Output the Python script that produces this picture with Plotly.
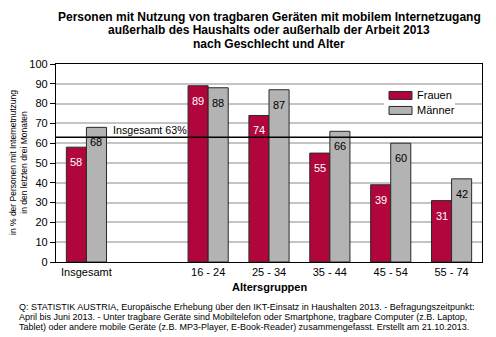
import plotly.graph_objects as go

# ---- data ----
categories = ["Insgesamt", "16 - 24", "25 - 34", "35 - 44", "45 - 54", "55 - 74"]
cat_pos = [0, 2, 3, 4, 5, 6]          # slot index (one empty slot after "Insgesamt")
series_names = ["Frauen", "Männer"]
frauen = [58, 89, 74, 55, 39, 31]
maenner = [68, 88, 87, 66, 60, 42]
total_value = 63
total_label = "Insgesamt 63%"
y_ticks = [0, 10, 20, 30, 40, 50, 60, 70, 80, 90, 100]

title_lines = ["Personen mit Nutzung von tragbaren Geräten mit mobilem Internetzugang",
               "außerhalb des Haushalts oder außerhalb der Arbeit 2013",
               "nach Geschlecht und Alter"]
y_title = "in % der Personen mit Internetnutzung<br>in den letzten drei Monaten"
x_title = "Altersgruppen"
footnote_lines = [
    "Q: STATISTIK AUSTRIA, Europäische Erhebung über den IKT-Einsatz in Haushalten 2013. - Befragungszeitpunkt:",
    "April bis Juni 2013. - Unter tragbare Geräte sind Mobiltelefon oder Smartphone, tragbare Computer (z.B. Laptop,",
    "Tablet) oder andere mobile Geräte (z.B. MP3-Player, E-Book-Reader) zusammengefasst. Erstellt am 21.10.2013.",
]

# ---- style ----
FONT = "Liberation Sans, Arial, Helvetica, sans-serif"
RED = "#B0063C"
GRAY = "#B3B3B3"
OUTLINE = "#2a2a2a"
BAR_W = 0.33

W, H = 496, 337
ML, MR, MT, MB = 56, 14, 63.5, 75.3
PW, PH = W - ML - MR, H - MT - MB


def px_to_paper_x(px):
    return (px - ML) / PW


def px_to_paper_y(py):
    return (H - MB - py) / PH


fig = go.Figure()
specs = [(series_names[0], frauen, RED, -BAR_W, "white"),
         (series_names[1], maenner, GRAY, 0.0, "black")]
annotations = []
for name, vals, col, off, tcol in specs:
    fig.add_trace(go.Bar(
        name=name, x=cat_pos, y=vals, width=BAR_W, offset=off,
        marker=dict(color=col, line=dict(color=OUTLINE, width=1)),
        showlegend=False,
    ))
    for xp, v in zip(cat_pos, vals):
        annotations.append(dict(
            x=xp + off + BAR_W / 2, y=v, xref="x", yref="y", text=str(v),
            showarrow=False, yanchor="middle", xanchor="center", yshift=-15,
            font=dict(family=FONT, size=11, color=tcol),
        ))

# reference line "Insgesamt 63%"
shapes = [dict(type="line", xref="paper", yref="y", x0=0, x1=1,
               y0=total_value, y1=total_value, layer="above",
               line=dict(color="black", width=1.3))]
annotations.append(dict(x=0.4, y=total_value, xref="x", yref="y",
                        text=total_label, showarrow=False, xanchor="left",
                        yanchor="bottom", yshift=-1,
                        font=dict(family=FONT, size=10.7, color="black")))

# custom legend (white box, wide swatches)
shapes.append(dict(type="rect", xref="paper", yref="paper",
                   x0=px_to_paper_x(384), x1=px_to_paper_x(455),
                   y0=px_to_paper_y(118), y1=px_to_paper_y(86),
                   fillcolor="white", line=dict(width=0), layer="above"))
for i, (name, col) in enumerate(zip(series_names, [RED, GRAY])):
    top = 91 + i * 15
    shapes.append(dict(type="rect", xref="paper", yref="paper",
                       x0=px_to_paper_x(389), x1=px_to_paper_x(412),
                       y0=px_to_paper_y(top + 8), y1=px_to_paper_y(top),
                       fillcolor=col, line=dict(color=OUTLINE, width=1),
                       layer="above"))
    annotations.append(dict(x=px_to_paper_x(415), y=px_to_paper_y(top + 4),
                            xref="paper", yref="paper", text=name,
                            showarrow=False, xanchor="left", yanchor="middle",
                            font=dict(family=FONT, size=11, color="black")))

# title (three lines, tight spacing)
for i, line in enumerate(title_lines):
    annotations.append(dict(x=0.5, y=px_to_paper_y(16 + i * 13.5), xref="paper",
                            yref="paper", text="<b>" + line + "</b>",
                            showarrow=False, xanchor="center", yanchor="middle",
                            font=dict(family=FONT, size=12, color="black")))

# axis titles & footnote
annotations.append(dict(x=px_to_paper_x(18), y=0.5, xref="paper", yref="paper",
                        text=y_title, textangle=-90, showarrow=False,
                        xanchor="center", yanchor="middle", align="center",
                        font=dict(family=FONT, size=8.5, color="black")))
annotations.append(dict(x=0.5, y=px_to_paper_y(287), xref="paper", yref="paper",
                        text="<b>" + x_title + "</b>", showarrow=False,
                        xanchor="center", yanchor="middle",
                        font=dict(family=FONT, size=11, color="black")))
for i, line in enumerate(footnote_lines):
    annotations.append(dict(x=px_to_paper_x(17), y=px_to_paper_y(307 + i * 10),
                            xref="paper", yref="paper", text=line,
                            showarrow=False, xanchor="left", yanchor="middle",
                            align="left",
                            font=dict(family=FONT, size=9, color="black")))

fig.update_layout(
    width=W, height=H,
    margin=dict(l=ML, r=MR, t=MT, b=MB, autoexpand=False),
    paper_bgcolor="white", plot_bgcolor="white",
    font=dict(family=FONT, size=11, color="black"),
    barmode="overlay",
    xaxis=dict(range=[-0.5, 6.5], tickvals=cat_pos, ticktext=categories,
               showline=True, linecolor="black", linewidth=1.3, mirror=True,
               ticks="", showgrid=False, zeroline=False, fixedrange=True,
               tickfont=dict(family=FONT, size=11, color="black")),
    yaxis=dict(range=[0, 100], tickvals=y_ticks, showline=True,
               linecolor="black", linewidth=1.3, mirror=True,
               ticks="outside", ticklen=5, tickcolor="black", tickwidth=1,
               showgrid=True, gridcolor="#C4C4C4", gridwidth=1.5,
               zeroline=False, fixedrange=True,
               tickfont=dict(family=FONT, size=11, color="black")),
    shapes=shapes, annotations=annotations,
)

fig.write_html("out.html")
